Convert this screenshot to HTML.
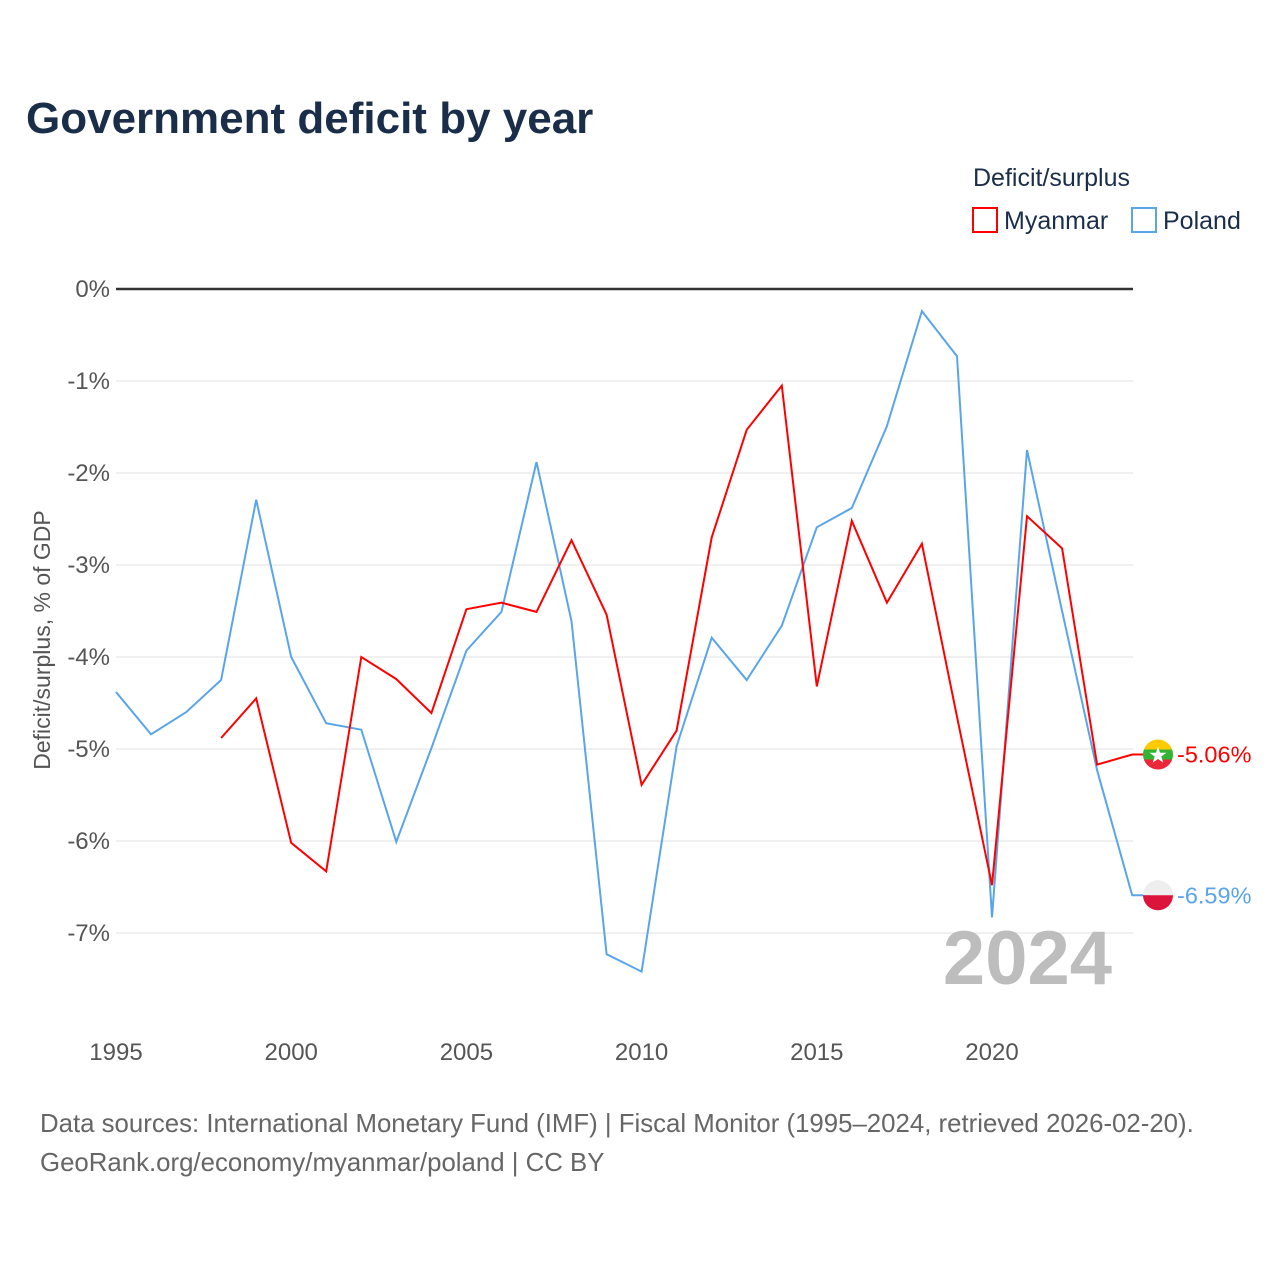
<!DOCTYPE html>
<html><head><meta charset="utf-8">
<style>
html,body{margin:0;padding:0;background:#fff;width:1280px;height:1280px;overflow:hidden;font-family:"Liberation Sans",sans-serif;}
</style></head>
<body>
<svg id="chart" width="1280" height="1280" xmlns="http://www.w3.org/2000/svg">
<text x="26" y="133" font-size="44" font-weight="bold" fill="#1a2e4a">Government deficit by year</text>
<text x="973" y="186" font-size="25" fill="#1a2e4a">Deficit/surplus</text>
<g>
<rect x="973" y="208" width="24" height="24" fill="none" stroke="#ff0000" stroke-width="2"/>
<text x="1004" y="229" font-size="25" fill="#1a2e4a">Myanmar</text></g>
<g>
<rect x="1132" y="208" width="24" height="24" fill="none" stroke="#5aa5ea" stroke-width="2"/>
<text x="1163" y="229" font-size="25" fill="#1a2e4a">Poland</text></g>
<text transform="translate(50,640) rotate(-90)" text-anchor="middle" font-size="23" fill="#555">Deficit/surplus, % of GDP</text>
<g id="grid"></g><g id="axes"></g>
<text x="1112" y="984" text-anchor="end" font-size="76" font-weight="bold" fill="#bdbdbd">2024</text>
<g id="series"></g>
<text x="40" y="1132" font-size="25.8" fill="#666">Data sources: International Monetary Fund (IMF) | Fiscal Monitor (1995–2024, retrieved 2026-02-20).</text>
<text x="40" y="1171" font-size="25.8" fill="#666">GeoRank.org/economy/myanmar/poland | CC BY</text>
</svg>
<script>
const years=[1995,1996,1997,1998,1999,2000,2001,2002,2003,2004,2005,2006,2007,2008,2009,2010,2011,2012,2013,2014,2015,2016,2017,2018,2019,2020,2021,2022,2023,2024];
const poland=[-4.38,-4.84,-4.60,-4.25,-2.29,-4.0,-4.72,-4.79,-6.01,-4.99,-3.93,-3.51,-1.88,-3.61,-7.23,-7.42,-4.97,-3.79,-4.25,-3.66,-2.59,-2.38,-1.49,-0.24,-0.73,-6.83,-1.75,-3.5,-5.23,-6.59];
const myanmar=[null,null,null,-4.88,-4.45,-6.02,-6.33,-4.0,-4.24,-4.61,-3.48,-3.41,-3.51,-2.73,-3.54,-5.39,-4.80,-2.70,-1.53,-1.05,-4.32,-2.52,-3.41,-2.77,-4.65,-6.48,-2.47,-2.82,-5.17,-5.06];
const yTicks=[0,-1,-2,-3,-4,-5,-6,-7];
const xTicks=[1995,2000,2005,2010,2015,2020];
const NS="http://www.w3.org/2000/svg";
const X=v=>116+(v-1995)*35.04;
const Y=v=>289-v*92;
function el(t,a,p){const e=document.createElementNS(NS,t);for(const k in a)e.setAttribute(k,a[k]);p.appendChild(e);return e;}
const grid=document.getElementById('grid'),axes=document.getElementById('axes'),ser=document.getElementById('series');
yTicks.forEach(t=>{
 const l=el('line',{x1:116,x2:1133,y1:Y(t),y2:Y(t),stroke:t===0?'#333':'#e6e6e6','stroke-width':t===0?2.5:1.2},grid);
 
 
 const tx=el('text',{x:110,y:Y(t)+8,'text-anchor':'end','font-size':24,fill:'#555'},axes);
 tx.textContent=t+'%';
 
 
});
xTicks.forEach(t=>{
 const tx=el('text',{x:X(t),y:1060,'text-anchor':'middle','font-size':24,fill:'#555'},axes);
 tx.textContent=t;
 
 
});
function line(vals,color,name){
 let d='';let started=false;
 vals.forEach((v,i)=>{if(v==null)return;d+=(started?'L':'M')+X(years[i]).toFixed(1)+','+Y(v).toFixed(1);started=true;});
 const last=vals[vals.length-1];
 d+='L1150,'+Y(last).toFixed(1);
 const p=el('path',{d:d,fill:'none',stroke:color,'stroke-width':2},ser);
 
 
}
line(poland,'#5aa5ea','poland');
line(myanmar,'#ff0000','myanmar');
const mY=Y(myanmar[myanmar.length-1]),pY=Y(poland[poland.length-1]);
const gm=el('g',{},ser);


const cp=el('clipPath',{id:'cm'},gm);
el('circle',{cx:1158,cy:mY,r:15},cp);
const gmc=el('g',{'clip-path':'url(#cm)'},gm);
el('rect',{x:1143,y:mY-15,width:30,height:10,fill:'#fecb00'},gmc);
el('rect',{x:1143,y:mY-5,width:30,height:10,fill:'#34b233'},gmc);
el('rect',{x:1143,y:mY+5,width:30,height:10,fill:'#ea2839'},gmc);
el('text',{x:1158,y:mY+8,'text-anchor':'middle','font-size':22,fill:'#fff'},gm).textContent='★';
const gp=el('g',{},ser);


el('path',{d:`M1143,${pY} A15,15 0 0 1 1173,${pY} Z`,fill:'#eeeeee'},gp);
el('path',{d:`M1143,${pY} A15,15 0 0 0 1173,${pY} Z`,fill:'#dc143c'},gp);
const lm=el('text',{x:1177,y:mY+8,'font-size':23.5,fill:'#ff0000'},ser);
lm.textContent=myanmar[myanmar.length-1].toFixed(2)+'%';


const lp=el('text',{x:1177,y:pY+8,'font-size':23.5,fill:'#5aa5ea'},ser);
lp.textContent=poland[poland.length-1].toFixed(2)+'%';


</script>
</body></html>
